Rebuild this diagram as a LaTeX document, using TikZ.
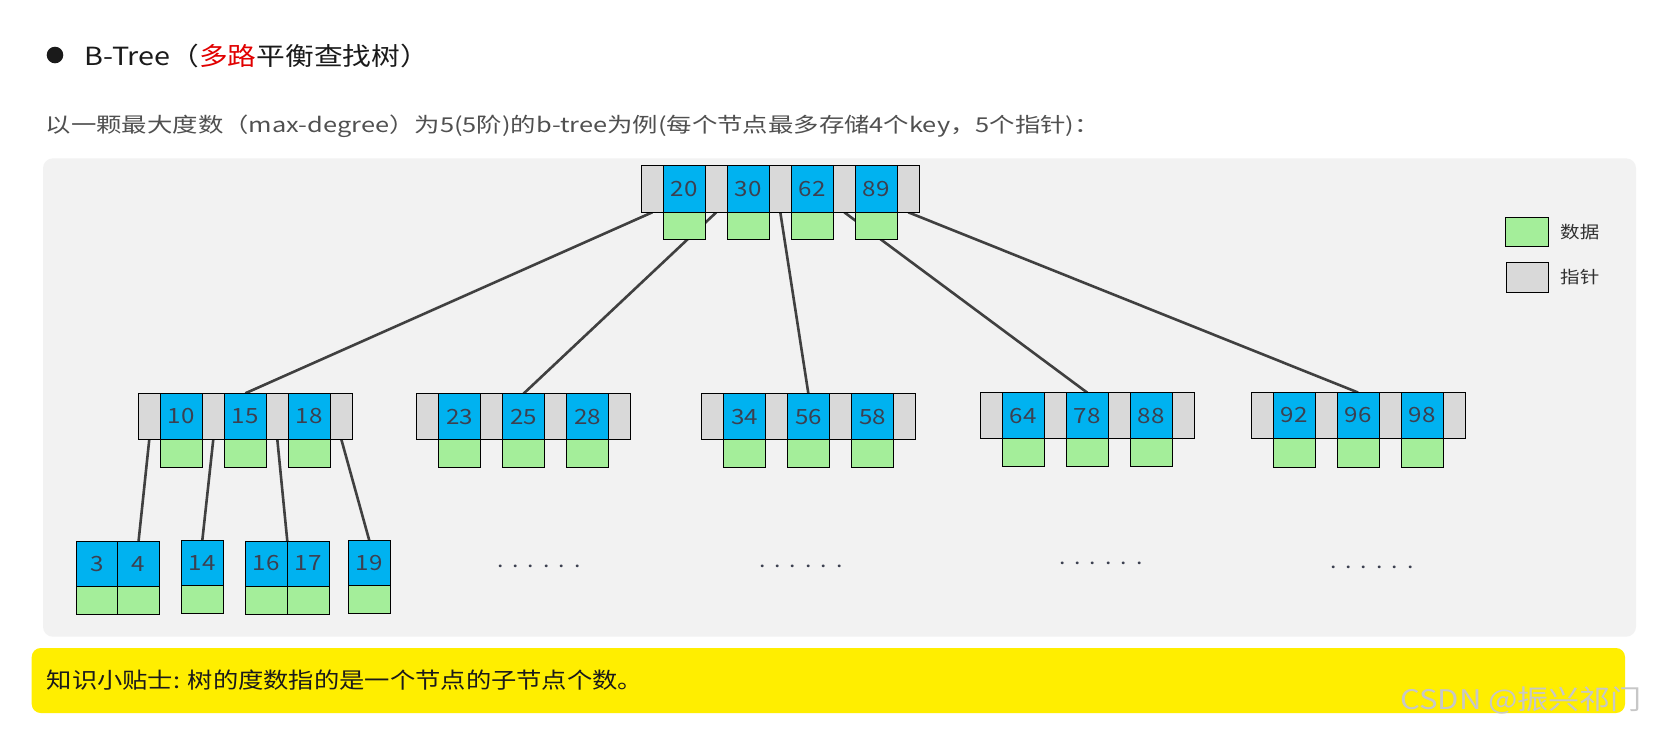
\documentclass[tikz,border=0pt]{standalone}
\usepackage{fontspec}
\usetikzlibrary{backgrounds}
\setmainfont{Noto Sans CJK SC}[FakeStretch=1.15]
\definecolor{cellblue}{RGB}{0,178,240}
\definecolor{cellgreen}{RGB}{164,238,154}
\definecolor{cellgray}{RGB}{217,217,217}
\definecolor{panelbg}{RGB}{242,242,242}
\definecolor{tipyellow}{RGB}{255,238,0}
\definecolor{edgecol}{RGB}{64,64,64}
\definecolor{numcol}{RGB}{60,64,80}
\definecolor{titlecol}{RGB}{26,26,26}
\definecolor{titlered}{RGB}{225,0,0}
\definecolor{subcol}{RGB}{80,80,80}

\newcommand{\BTnode}[8]{% name, x, y, gray w, blue w, h, data h, keys
  \foreach \kv [count=\i] in {#8} {
    \pgfmathsetmacro{\px}{#2+(\i-1)*(#4+#5)}
    \node[ptr, minimum width=#4pt, minimum height=#6pt, anchor=north west] (#1-p\i) at (\px,#3) {};
    \node[key, minimum width=#5pt, minimum height=#6pt, anchor=north west] (#1-k\i) at (\px+#4,#3) {\kv};
    \node[dat, minimum width=#5pt, minimum height=#7pt, anchor=north] (#1-d\i) at (#1-k\i.south) {};
    \xdef\lastcount{\i}
  }
  \pgfmathsetmacro{\px}{#2+\lastcount*(#4+#5)}
  \pgfmathtruncatemacro{\nx}{\lastcount+1}
  \node[ptr, minimum width=#4pt, minimum height=#6pt, anchor=north west] (#1-p\nx) at (\px,#3) {};
}
\newcommand{\BTleaf}[7]{% name, x, y, w, h, data h, keys
  \foreach \kv [count=\i] in {#7} {
    \pgfmathsetmacro{\px}{#2+(\i-1)*#4}
    \node[key, minimum width=#4pt, minimum height=#5pt, anchor=north west] (#1-k\i) at (\px,#3) {\kv};
    \node[dat, minimum width=#4pt, minimum height=#6pt, anchor=north] (#1-d\i) at (#1-k\i.south) {};
  }
}
\newcommand{\sixdots}{.\hspace{9pt}.\hspace{9pt}.\hspace{9pt}.\hspace{9pt}.\hspace{9pt}.}

\begin{document}
\begin{tikzpicture}[x=1pt,y=-1pt,
  ptr/.style={draw=black, line width=0.9pt, fill=cellgray, inner sep=0pt, outer sep=0pt},
  key/.style={draw=black, line width=0.9pt, fill=cellblue, inner sep=0pt, outer sep=0pt, text=numcol, font=\fontsize{21}{21}\selectfont},
  dat/.style={draw=black, line width=0.9pt, fill=cellgreen, inner sep=0pt, outer sep=0pt},
  link/.style={draw=edgecol, line width=2.6pt},
  dotrow/.style={anchor=base west, inner sep=0pt, text=numcol, font=\fontsize{20}{20}\selectfont},
  legtext/.style={anchor=west, inner sep=0pt, text=titlecol!90, font=\fontsize{17}{17}\selectfont},
]
\useasboundingbox (0,0) rectangle (1657,732);

\begin{pgfonlayer}{background}
  \fill[white] (0,0) rectangle (1657,732);
  \fill[panelbg, rounded corners=10pt] (43,158.3) rectangle (1636,636.7);
\end{pgfonlayer}
\fill[tipyellow, rounded corners=9pt] (31.7,648) rectangle (1625,713);

% header
\node[circle, fill=titlecol, minimum size=16.6pt, inner sep=0pt] (bullet) at (55,55) {};
\node[anchor=west, inner sep=0pt, text=titlecol, font=\fontsize{25}{25}\selectfont] (title) at (84.5,56.2)
  {B-Tree（\textcolor{titlered}{多路}平衡查找树）};
\node[anchor=west, inner sep=0pt, text=subcol, font=\fontsize{20.5}{20.5}\selectfont] (subtitle) at (45.5,126.2)
  {\scalebox{1.077}[1]{以一颗最大度数（max-degree）为5(5阶)的b-tree为例(每个节点最多存储4个key，5个指针)：}};

% tree nodes
\BTnode{root}{641.3}{165.3}{22}{42}{47}{27}{20,30,62,89}
\BTnode{na}{138.3}{393.3}{22}{42}{46}{28}{10,15,18}
\BTnode{nb}{416.4}{393.8}{22}{42}{46}{28}{23,25,28}
\BTnode{nc}{701.4}{393.8}{22}{42}{46}{28}{34,56,58}
\BTnode{nd}{980.3}{392.7}{22}{42}{46}{28}{64,78,88}
\BTnode{ne}{1251}{392.5}{22}{42}{46}{29}{92,96,98}

\BTleaf{la}{76.3}{541.3}{41.5}{45}{28}{3,4}
\BTleaf{lb}{181.3}{540.5}{42}{45}{28}{14}
\BTleaf{lc}{245.3}{541}{42}{45}{28}{16,17}
\BTleaf{ld}{348.3}{540.5}{42}{45}{28}{19}

% connectors (behind boxes)
\begin{pgfonlayer}{background}
  \draw[link] (root-p1.south) -- (na-k2.north);
  \draw[link] (root-p2.south) -- (nb-k2.north);
  \draw[link] (root-p3.south) -- (nc-k2.north);
  \draw[link] (root-p4.south) -- (nd-k2.north);
  \draw[link] (root-p5.south) -- (ne-k2.north);
  \draw[link] (na-p1.south) -- (la-k2.north);
  \draw[link] (na-p2.south) -- (lb-k1.north);
  \draw[link] (na-p3.south) -- (lc-k1.north east);
  \draw[link] (na-p4.south) -- (ld-k1.north);
\end{pgfonlayer}

% ellipsis rows
\node[dotrow] (dots1) at (497,567) {\sixdots};
\node[dotrow] (dots2) at (759,567) {\sixdots};
\node[dotrow] (dots3) at (1059,564) {\sixdots};
\node[dotrow] (dots4) at (1330,568) {\sixdots};

% legend
\node[dat, minimum width=43.4pt, minimum height=29.4pt, anchor=north west] (legdata) at (1505.3,217.3) {};
\node[ptr, minimum width=42.7pt, minimum height=30.4pt, anchor=north west] (legptr) at (1506,262.3) {};
\node[legtext] (legdatatext) at (1560,231.7) {数据};
\node[legtext] (legptrtext) at (1560,276.7) {指针};

% tip
\node[anchor=west, inner sep=0pt, text=titlecol, font=\fontsize{22}{22}\selectfont] (tip) at (46.5,680)
  {知识小贴士: 树的度数指的是一个节点的子节点个数。};
\node[anchor=west, inner sep=0pt, text=black!22, font=\fontsize{27}{27}\selectfont] (watermark) at (1400,700)
  {CSDN @振兴祁门};
\end{tikzpicture}
\end{document}
